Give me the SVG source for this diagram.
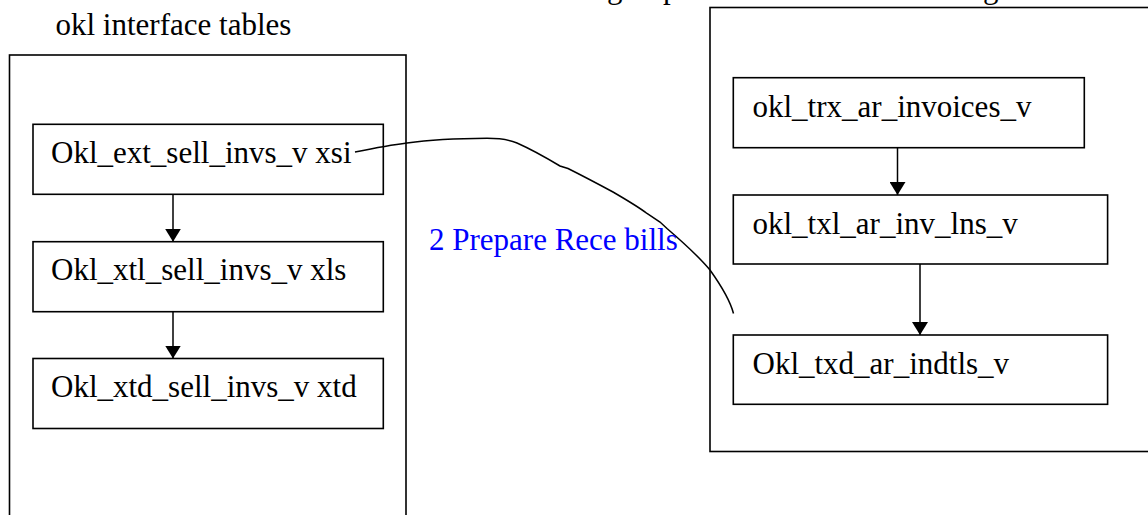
<svg xmlns="http://www.w3.org/2000/svg" width="1148" height="515" viewBox="0 0 1148 515">
<style>
.box{fill:#fff;stroke:#000;stroke-width:1.6}
.cont{fill:none;stroke:#000;stroke-width:1.6}
.t{font-family:"Liberation Serif","Times New Roman",serif;font-size:31px;fill:#000}
.lbl{font-family:"Liberation Serif","Times New Roman",serif;font-size:31px;fill:#0000FF}
.edge{fill:none;stroke:#000;stroke-width:1.5}
</style>
<defs>
<marker id="ah" viewBox="0 0 13 16" refX="13" refY="8" markerWidth="13" markerHeight="16" markerUnits="userSpaceOnUse" orient="auto">
<path d="M0,0 L13,8 L0,16 Z" fill="#000"/>
</marker>
</defs>
<rect width="1148" height="515" fill="#fff"/>
<g id="top-clipped-text"><text class="t" y="-2"><tspan x="607">g</tspan><tspan x="663">p</tspan><tspan x="983">g</tspan></text></g>
<g id="left-container">
<rect class="cont" x="9.5" y="55" width="396.5" height="480"/>
<text class="t" x="55.5" y="35">okl interface tables</text>
</g>
<g id="right-container">
<rect class="cont" x="710" y="7.5" width="460" height="444"/>
</g>
<g id="n-ext"><rect class="box" x="33" y="124.3" width="350.3" height="70"/><text class="t" x="51" y="162.5">Okl_ext_sell_invs_v xsi</text></g>
<g id="n-xtl"><rect class="box" x="33" y="241.7" width="350.3" height="70"/><text class="t" x="51" y="280">Okl_xtl_sell_invs_v xls</text></g>
<g id="n-xtd"><rect class="box" x="33" y="358.5" width="350.3" height="70"/><text class="t" x="51" y="397">Okl_xtd_sell_invs_v xtd</text></g>
<g id="n-trx"><rect class="box" x="733.3" y="77.7" width="351" height="70"/><text class="t" x="752.5" y="116.5">okl_trx_ar_invoices_v</text></g>
<g id="n-txl"><rect class="box" x="733.3" y="195" width="374.3" height="69"/><text class="t" x="752.5" y="233.5">okl_txl_ar_inv_lns_v</text></g>
<g id="n-txd"><rect class="box" x="733.3" y="335" width="374.3" height="69.3"/><text class="t" x="752.5" y="373.5">Okl_txd_ar_indtls_v</text></g>
<g id="connectors">
<line class="edge" x1="173" y1="194.3" x2="173" y2="241.7" marker-end="url(#ah)"/>
<line class="edge" x1="173" y1="311.7" x2="173" y2="358.5" marker-end="url(#ah)"/>
<line class="edge" x1="897.5" y1="147.7" x2="897.5" y2="195" marker-end="url(#ah)"/>
<line class="edge" x1="920" y1="264" x2="920" y2="335" marker-end="url(#ah)"/>
<path class="edge" d="M355,152 C375,148 395,144.5 407,143 C425,140.5 455,138.5 487,138.3 C500,138.3 510,140 517,143 C535,151 550,160 560,166 L568,168.5 C585,177 600,185 613,192 C625,199 640,208 647,213.5 L660,222 L667,228.5 C685,244 700,258 710,270 C720,284 730,300 733.5,313.5"/>
<text class="lbl" x="429" y="250">2 Prepare Rece bills</text>
</g>
</svg>
